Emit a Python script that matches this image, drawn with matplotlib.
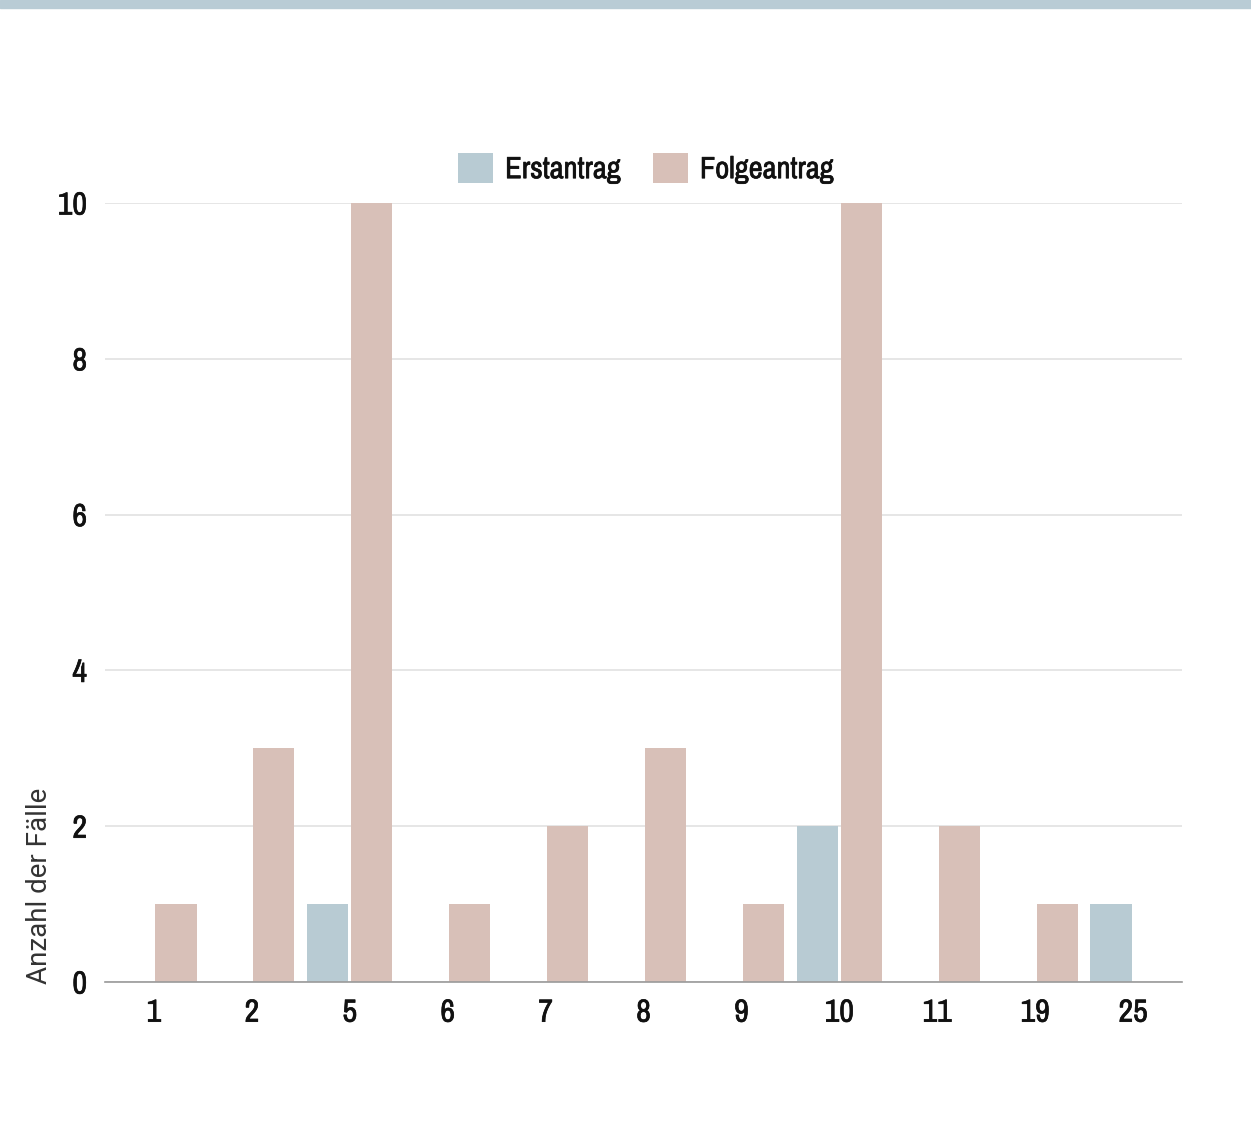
import matplotlib
matplotlib.use("Agg")
import matplotlib.pyplot as plt
from matplotlib.patches import Rectangle
from matplotlib import font_manager
import matplotlib.patheffects as pe
import numpy as np

categories = ["1", "2", "5", "6", "7", "8", "9", "10", "11", "19", "25"]
erstantrag = [0, 0, 1, 0, 0, 0, 0, 2, 0, 0, 1]
folgeantrag = [1, 3, 10, 1, 2, 3, 1, 10, 2, 1, 0]
yticks = [0, 2, 4, 6, 8, 10]

c_erst = "#b8cbd3"
c_folge = "#d8c0b8"
ink = "#111111"


def pick_narrow_font():
    """Return (family, stretch) for a condensed face if one is installed."""
    entries = font_manager.fontManager.ttflist
    for e in entries:
        if any(k in e.name for k in ("Condensed", "Narrow", "Oswald")):
            return e.name, "normal"
    for e in entries:
        if str(e.stretch) in ("condensed", "semi-condensed", "extra-condensed", "500", "400", "300"):
            return e.name, e.stretch
    return "DejaVu Sans", "normal"


narrow, stretch = pick_narrow_font()
tick_font = font_manager.FontProperties(family=narrow, stretch=stretch, weight="bold", size=23)
legend_font = font_manager.FontProperties(family=narrow, stretch=stretch, weight="bold", size=22)
heavy = [pe.withStroke(linewidth=0.5, foreground=ink)]

fig = plt.figure(figsize=(12.51, 11.42), dpi=100)
W, H = 1251, 1142

# top colour band
fig.patches.append(Rectangle((0, 1 - 8 / H), 1, 8 / H, transform=fig.transFigure,
                             color="#b9ccd5", zorder=0))

ax = fig.add_axes([105 / W, 1 - 982 / H, (1182 - 105) / W, (982 - 203) / H])
x = np.arange(len(categories))
bw = 0.42
off = 0.225
ax.bar(x - off, erstantrag, width=bw, color=c_erst, label="Erstantrag", zorder=3)
ax.bar(x + off, folgeantrag, width=bw, color=c_folge, label="Folgeantrag", zorder=3)

ax.set_xlim(-0.5, len(categories) - 0.5)
ax.set_ylim(0, 10)
ax.set_yticks(yticks)
ax.set_xticks(x)
ax.set_xticklabels(categories)
ax.grid(axis="y", color="#e2e2e2", linewidth=1.2, zorder=0)
ax.set_axisbelow(True)
for s in ["top", "right", "left"]:
    ax.spines[s].set_visible(False)
ax.spines["bottom"].set_color("#9a9a9a")
ax.spines["bottom"].set_linewidth(1.2)
ax.spines["bottom"].set_zorder(4)
ax.tick_params(axis="x", length=0, pad=12)
ax.tick_params(axis="y", length=0, pad=13)
for lab in ax.get_xticklabels() + ax.get_yticklabels():
    lab.set_fontproperties(tick_font)
    lab.set_color(ink)
    lab.set_path_effects(heavy)

leg = ax.legend(loc="lower center", bbox_to_anchor=(0.502, 1.0), ncol=2, frameon=False,
                handlelength=1.15, handleheight=1.15, columnspacing=1.05, handletextpad=0.4,
                prop=legend_font, borderaxespad=0.25)
for t in leg.get_texts():
    t.set_color(ink)
    t.set_path_effects(heavy)

fig.text(40 / W, 1 - 886 / H, "Anzahl der Fälle", rotation=90, ha="center", va="center",
         fontsize=20, family="Roboto", color="#333333")

fig.savefig("out.png", dpi=100, facecolor="white")
